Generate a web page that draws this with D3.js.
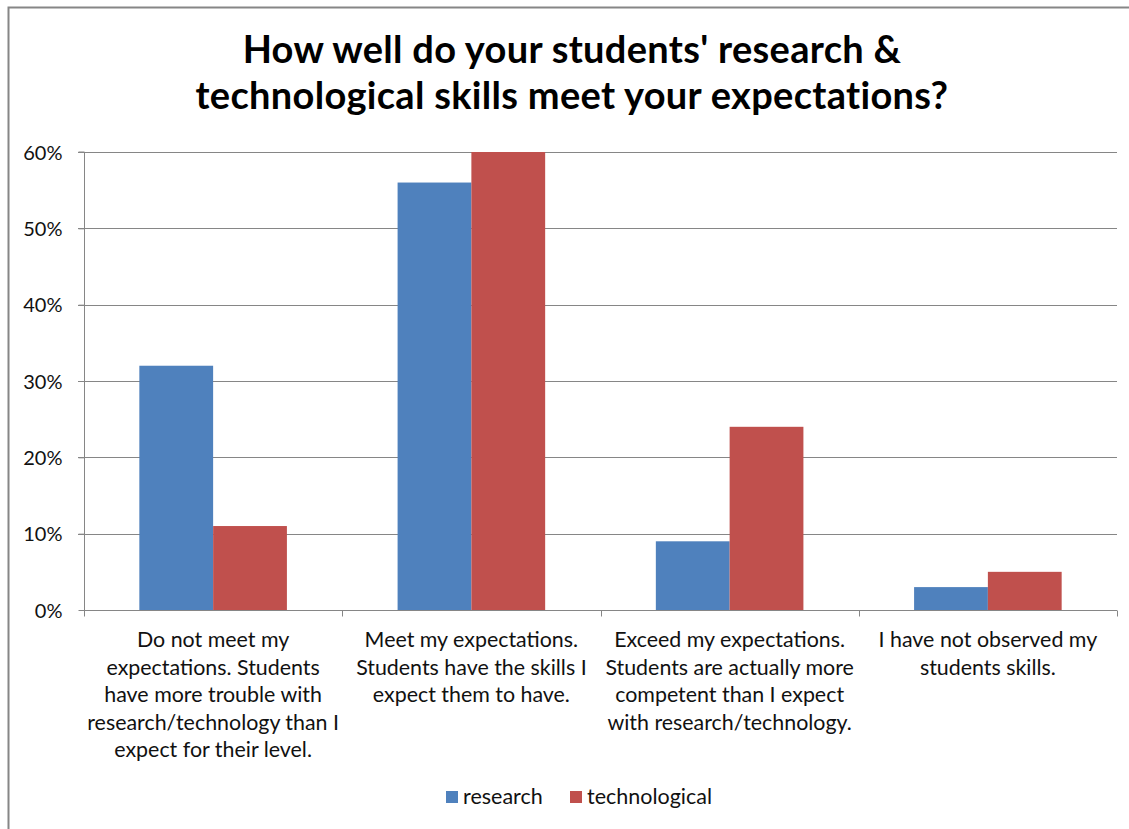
<!DOCTYPE html>
<html>
<head>
<meta charset="utf-8">
<script src="https://cdn.jsdelivr.net/npm/d3@7/dist/d3.min.js"></script>
<style>
  html, body { margin: 0; padding: 0; background: #fff; }
  svg { display: block; }
</style>
</head>
<body>
<svg id="chart" width="1129" height="829"></svg>
<script>
// ---- data ----
const categories = ["cat1", "cat2", "cat3", "cat4"];
const categoryLabels = [
  ["Do not meet my", "expectations. Students", "have more trouble with", "research/technology than I", "expect for their level."],
  ["Meet my expectations.", "Students have the skills I", "expect them to have."],
  ["Exceed my expectations.", "Students are actually more", "competent than I expect", "with research/technology."],
  ["I have not observed my", "students skills."]
];
const seriesNames = ["research", "technological"];
const researchValues = [0.32, 0.56, 0.09, 0.03];
const technologicalValues = [0.11, 0.60, 0.24, 0.05];
const yTicks = [0, 0.1, 0.2, 0.3, 0.4, 0.5, 0.6];
const titleLines = ["How well do your students' research &", "technological skills meet your expectations?"];
const colors = ["#4F81BD", "#C0504D"];

const seriesValues = [researchValues, technologicalValues];

const svg = d3.select("#chart");
const FONT = "Lato, 'Open Sans', sans-serif";

// chart border
svg.append("path")
  .attr("d", "M8.5,829 V7.5 H1129")
  .attr("fill", "none")
  .attr("stroke", "#868686")
  .attr("stroke-width", 2);

const plot = { left: 84, right: 1117, top: 152, bottom: 610 };

const x = d3.scaleBand().domain(categories).range([plot.left, plot.right]).padding(0);
const y = d3.scaleLinear().domain([0, 0.6]).range([plot.bottom, plot.top]);

// inner band: gap width 150% => 0.75 bar of space on each side
const bw = x.bandwidth() / 3.5;
const inner = d3.scaleBand().domain(seriesNames).range([0.75 * bw, 2.75 * bw]).padding(0);

// gridlines
svg.append("g").selectAll("line").data(yTicks.filter(d => d > 0)).join("line")
  .attr("x1", plot.left - 6).attr("x2", plot.right)
  .attr("y1", d => Math.round(y(d)) + 0.5).attr("y2", d => Math.round(y(d)) + 0.5)
  .attr("stroke", "#868686").attr("stroke-width", 1);

// y axis
const yAxis = d3.axisLeft(y).tickValues(yTicks).tickFormat(d3.format(".0%")).tickSize(6).tickPadding(16);
const yg = svg.append("g").attr("transform", `translate(${plot.left + 0.5},0)`).call(yAxis);
yg.select(".domain").attr("stroke", "#868686").attr("d", `M-6,${plot.top}H0V${plot.bottom}`);
yg.selectAll(".tick line").attr("stroke", "#868686");
yg.selectAll(".tick text").attr("font-family", FONT).attr("font-size", 20).attr("fill", "#111").attr("dy", "0.36em");

// bars
const groups = svg.append("g").selectAll("g").data(categories).join("g")
  .attr("transform", d => `translate(${x(d)},0)`);
groups.selectAll("rect").data((d, i) => seriesNames.map((s, j) => ({ s, v: seriesValues[j][i], j })))
  .join("rect")
  .attr("x", d => inner(d.s))
  .attr("width", inner.bandwidth())
  .attr("y", d => y(d.v))
  .attr("height", d => y(0) - y(d.v))
  .attr("fill", d => colors[d.j]);

// x axis
const xAxis = d3.axisBottom(x).tickFormat("").tickSize(0);
const xg = svg.append("g").attr("transform", `translate(0,${Math.round(plot.bottom) + 0.5})`).call(xAxis);
xg.select(".domain").attr("stroke", "#868686").attr("d", `M${plot.left},0H${plot.right}`);
xg.selectAll(".tick").remove();
const bounds = categories.map(c => x(c)).concat([plot.right]);
xg.selectAll("line.bt").data(bounds).join("line").attr("class", "bt")
  .attr("x1", d => Math.round(d) + 0.5).attr("x2", d => Math.round(d) + 0.5)
  .attr("y1", 0).attr("y2", 6).attr("stroke", "#868686");

// category labels
const lab = svg.append("g");
categories.forEach((c, i) => {
  const cx = x(c) + x.bandwidth() / 2;
  const t = lab.append("text")
    .attr("x", cx).attr("y", 647)
    .attr("text-anchor", "middle")
    .attr("font-family", FONT).attr("font-size", 21.4).attr("fill", "#111");
  categoryLabels[i].forEach((line, k) => {
    t.append("tspan").attr("x", cx).attr("dy", k === 0 ? 0 : 27.5).text(line);
  });
});

// title
const title = svg.append("text").attr("text-anchor", "middle")
  .attr("font-family", FONT).attr("font-weight", "bold").attr("font-size", 38)
  .attr("letter-spacing", 0.3).attr("fill", "#000");
titleLines.forEach((l, k) => {
  title.append("tspan").attr("x", 572).attr("y", 63 + k * 46).text(l);
});

// legend
const legendX = [446, 570];
const lg = svg.append("g");
seriesNames.forEach((s, j) => {
  const lx = legendX[j];
  lg.append("rect").attr("x", lx).attr("y", 791).attr("width", 12).attr("height", 12).attr("fill", colors[j]);
  lg.append("text").attr("x", lx + 17).attr("y", 804).attr("font-family", FONT).attr("font-size", 21.5)
    .attr("fill", "#111").text(s);
});
</script>
</body>
</html>
